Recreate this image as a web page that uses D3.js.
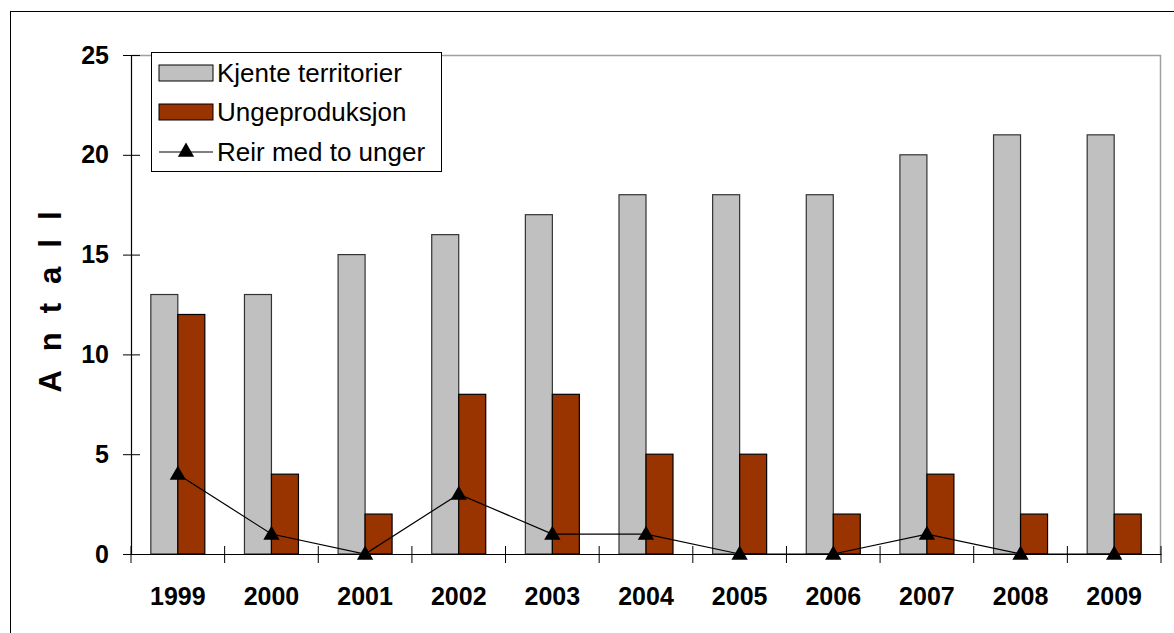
<!DOCTYPE html>
<html>
<head>
<meta charset="utf-8">
<script src="https://cdn.jsdelivr.net/npm/d3@7"></script>
<style>
  body { margin: 0; background: #fff; }
  svg { display: block; font-family: Arial, "Liberation Sans", sans-serif; }
</style>
</head>
<body>
<div id="chart"></div>
<script>
// data
var years = ['1999', '2000', '2001', '2002', '2003', '2004', '2005', '2006', '2007', '2008', '2009'];
var kjente = [13, 13, 15, 16, 17, 18, 18, 18, 20, 21, 21];
var unge = [12, 4, 2, 8, 8, 5, 5, 2, 4, 2, 2];
var reir = [4, 1, 0, 3, 1, 1, 0, 0, 1, 0, 0];
var yTicks = [0, 5, 10, 15, 20, 25];
var seriesNames = ['Kjente territorier', 'Ungeproduksjon', 'Reir med to unger'];

var W = 1174, H = 633;
var plot = { left: 131, right: 1161, top: 55, bottom: 554 };
var font = 'Arial, "Liberation Sans", sans-serif';

var svg = d3.select('#chart').append('svg')
  .attr('width', W).attr('height', H);

// outer frame
svg.append('rect')
  .attr('x', 10.5).attr('y', 11.5)
  .attr('width', W + 20).attr('height', H + 20)
  .attr('fill', 'none').attr('stroke', '#000').attr('stroke-width', 1);

var x = d3.scaleBand().domain(years).range([plot.left, plot.right]).padding(0);
var y = d3.scaleLinear().domain([0, 25]).range([plot.bottom, plot.top]);

var barW = 27;

// plot area border (grey, top and right)
svg.append('path')
  .attr('d', 'M' + plot.left + ',' + (plot.top + 0.5) + 'H' + (plot.right - 0.5) + 'V' + plot.bottom)
  .attr('fill', 'none').attr('stroke', '#a0a0a0').attr('stroke-width', 1.5);

// bars
var g = svg.append('g');
g.selectAll('rect.k').data(kjente).enter().append('rect')
  .attr('class', 'k')
  .attr('x', function (d, i) { return x(years[i]) + x.bandwidth() / 2 - barW; })
  .attr('y', function (d) { return y(d); })
  .attr('width', barW)
  .attr('height', function (d) { return y(0) - y(d); })
  .attr('fill', '#c0c0c0').attr('stroke', '#333').attr('stroke-width', 1.2);

g.selectAll('rect.u').data(unge).enter().append('rect')
  .attr('class', 'u')
  .attr('x', function (d, i) { return x(years[i]) + x.bandwidth() / 2; })
  .attr('y', function (d) { return y(d); })
  .attr('width', barW)
  .attr('height', function (d) { return y(0) - y(d); })
  .attr('fill', '#993300').attr('stroke', '#000').attr('stroke-width', 1.2);

// axes
var yAxis = d3.axisLeft(y).tickValues(yTicks).tickSize(8).tickPadding(14);
var ya = svg.append('g').attr('transform', 'translate(' + plot.left + ',0)').call(yAxis);
ya.select('.domain').attr('stroke', '#000').attr('stroke-width', 1.2);
ya.selectAll('.tick line').attr('x2', 9).attr('x1', -8).attr('stroke', '#000');
ya.selectAll('.tick text').attr('font-size', 25).attr('font-weight', 'bold').attr('fill', '#000')
  .attr('font-family', font);

var xAxis = d3.axisBottom(x).tickSize(0).tickPadding(33);
var xa = svg.append('g').attr('transform', 'translate(0,' + plot.bottom + ')').call(xAxis);
xa.select('.domain').attr('stroke', '#000').attr('stroke-width', 1.2);
xa.selectAll('.tick text').attr('font-size', 25).attr('font-weight', 'bold').attr('fill', '#000')
  .attr('font-family', font);

// category separators (cross ticks)
var seps = years.map(function (d) { return x(d); }).concat([plot.right]);
xa.selectAll('line.sep').data(seps).enter().append('line')
  .attr('class', 'sep')
  .attr('x1', function (d) { return d; }).attr('x2', function (d) { return d; })
  .attr('y1', -8).attr('y2', 9)
  .attr('stroke', '#000').attr('stroke-width', 1);

// line series
var line = d3.line()
  .x(function (d, i) { return x(years[i]) + x.bandwidth() / 2; })
  .y(function (d) { return y(d); });
svg.append('path').datum(reir)
  .attr('d', line).attr('fill', 'none').attr('stroke', '#000').attr('stroke-width', 1.2);

var tri = d3.symbol().type(d3.symbolTriangle).size(115);
svg.selectAll('path.m').data(reir).enter().append('path')
  .attr('class', 'm')
  .attr('d', tri)
  .attr('transform', function (d, i) {
    return 'translate(' + (x(years[i]) + x.bandwidth() / 2) + ',' + (y(d) + 1) + ')';
  })
  .attr('fill', '#000');

// y title (letter-spaced, trailing gap compensated)
var ls = 19;
svg.append('text')
  .attr('transform', 'translate(61,' + (302 - ls / 2) + ') rotate(-90)')
  .attr('text-anchor', 'middle')
  .attr('font-size', 31).attr('font-weight', 'bold')
  .attr('letter-spacing', ls)
  .text('Antall');

// legend
var lg = svg.append('g').attr('transform', 'translate(151,52)');
lg.append('rect').attr('x', 0.5).attr('y', 0.5).attr('width', 290).attr('height', 119)
  .attr('fill', '#fff').attr('stroke', '#000').attr('stroke-width', 1);
var rows = [21, 60, 100];
lg.append('rect').attr('x', 8).attr('y', rows[0] - 8).attr('width', 54).attr('height', 16)
  .attr('fill', '#c0c0c0').attr('stroke', '#000');
lg.append('rect').attr('x', 8).attr('y', rows[1] - 8).attr('width', 54).attr('height', 16)
  .attr('fill', '#993300').attr('stroke', '#000');
lg.append('line').attr('x1', 8).attr('x2', 62).attr('y1', rows[2]).attr('y2', rows[2])
  .attr('stroke', '#000').attr('stroke-width', 1.2);
lg.append('path').attr('d', tri).attr('transform', 'translate(35,' + rows[2] + ')').attr('fill', '#000');
lg.selectAll('text').data(seriesNames).enter().append('text')
  .attr('x', 66)
  .attr('y', function (d, i) { return rows[i]; })
  .attr('dy', '0.36em')
  .attr('font-size', 26)
  .text(function (d) { return d; });
</script>
</body>
</html>
